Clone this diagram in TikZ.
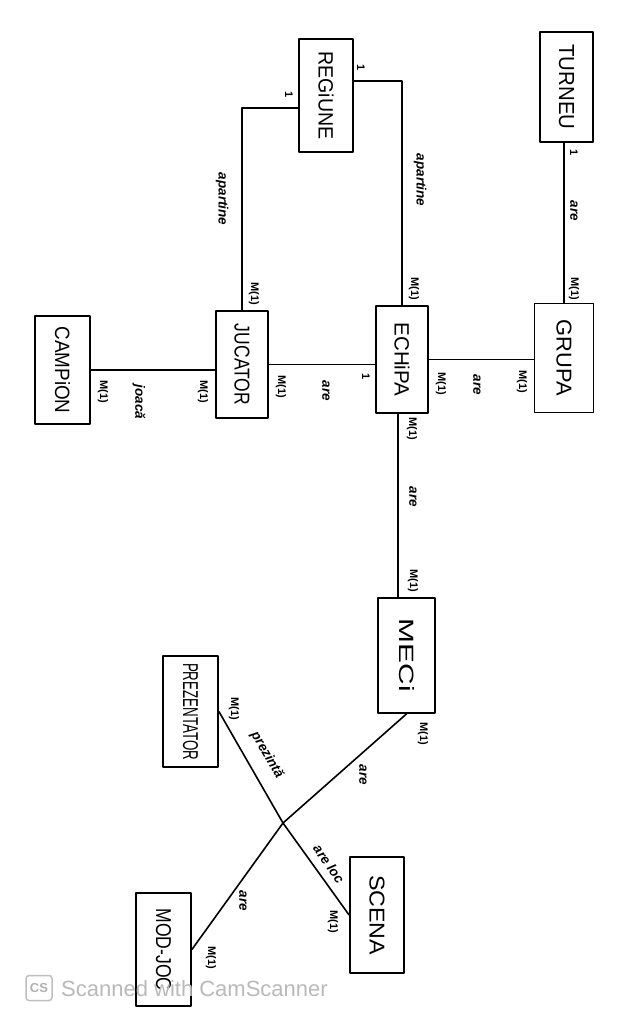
\documentclass[tikz,border=0pt]{standalone}
\usepackage{fontspec}
\setmainfont{Liberation Sans}
\usetikzlibrary{calc}
% entity name, written downwards and stretched to a given length
\newcommand{\bxlabel}[2]{\rotatebox{-90}{\resizebox{#1}{15pt}{#2}}}
\begin{document}
\begin{tikzpicture}[x=1pt,y=-1pt,
  entity/.style={draw, line width=1.8pt, line join=round, inner sep=0pt},
  link/.style={line width=1.6pt, line join=round},
  card/.style={font=\fontsize{11}{11}\selectfont\bfseries, rotate=-90, inner sep=0pt},
  verb/.style={font=\fontsize{13.5}{13.5}\selectfont\bfseries\itshape, rotate=-90, inner sep=0pt}]
\useasboundingbox[fill=white] (0,0) rectangle (626,1024);

% entities
\node[entity, minimum width=53pt, minimum height=110pt] (turneu) at (566.5,87) {\bxlabel{85pt}{TURNEU}};
\node[entity, minimum width=59pt, minimum height=109pt] (grupa) at (564,358) {\bxlabel{76pt}{GRUPA}};
\node[entity, minimum width=54pt, minimum height=113pt] (regiune) at (326,95.5) {\bxlabel{88pt}{REGiUNE}};
\node[entity, minimum width=52pt, minimum height=107pt] (echipa) at (402,359.5) {\bxlabel{74pt}{ECHiPA}};
\node[entity, minimum width=52pt, minimum height=107pt] (jucator) at (242,364.5) {\bxlabel{81pt}{JUCATOR}};
\node[entity, minimum width=55pt, minimum height=108pt] (campion) at (62.5,370) {\bxlabel{87pt}{CAMPiON}};
\node[entity, minimum width=57pt, minimum height=115pt] (meci) at (406.5,655.5) {\bxlabel{73pt}{MECi}};
\node[entity, minimum width=55pt, minimum height=111pt] (prezentator) at (190.5,711.5) {\bxlabel{97pt}{PREZENTATOR}};
\node[entity, minimum width=54pt, minimum height=116pt] (scena) at (377,915) {\bxlabel{80pt}{SCENA}};
\node[entity, minimum width=55pt, minimum height=113pt] (modjoc) at (163.5,949.5) {\bxlabel{82pt}{MOD-JOC}};

% relationships
\draw[link] (grupa.north |- turneu.south) -- (grupa.north);
\draw[link] ([yshift=14.5pt]regiune.east) -| (echipa.north);
\draw[link] ([yshift=-12.5pt]regiune.west) -| (jucator.north);
\draw[link] (jucator.east) -- (jucator.east -| echipa.west);
\draw[link] (echipa.east) -- (echipa.east -| grupa.west);
\draw[link] (campion.east) -- (campion.east -| jucator.west);
\draw[link] ([xshift=-4pt]echipa.south) -- ([xshift=-4pt]echipa.south |- meci.north);
\coordinate (X) at (283,823);
\draw[link] (meci.south) -- (X) -- (modjoc.east);
\draw[link] (prezentator.east) -- (X) -- (scena.west);

% TURNEU - GRUPA
\node[card] (c1) at (574,153) {1};
\node[verb] (v1) at (574,211) {are};
\node[card] (c2) at (574,289) {M(1)};
% REGIUNE - ECHIPA
\node[card] (c3) at (361,68) {1};
\node[verb] (v2) at (420,180) {apartine};
\node[card] (c4) at (414,289) {M(1)};
% REGIUNE - JUCATOR
\node[card] (c5) at (289,95) {1};
\node[verb] (v3) at (222,199) {apartine};
\node[card] (c6) at (254,294) {M(1)};
% JUCATOR - ECHIPA
\node[card] (c7) at (281,387) {M(1)};
\node[verb] (v4) at (326,391) {are};
\node[card] (c8) at (366,377) {1};
% ECHIPA - GRUPA
\node[card] (c9) at (441,384) {M(1)};
\node[verb] (v5) at (477,385) {are};
\node[card] (c10) at (522,382) {M(1)};
% CAMPION - JUCATOR
\node[card] (c11) at (103,392) {M(1)};
\node[verb] (v6) at (139,402) {joacă};
\node[card] (c12) at (203,392) {M(1)};
% ECHIPA - MECI
\node[card] (c13) at (412,429) {M(1)};
\node[verb] (v7) at (413,497) {are};
\node[card] (c14) at (413,581) {M(1)};
% MECI, PREZENTATOR, SCENA, MOD-JOC
\node[card] (c15) at (423,734) {M(1)};
\node[verb] (v8) at (363,775) {are};
\node[card] (c16) at (234,709) {M(1)};
\node[verb, rotate=30] (v9) at (267,755) {prezintă};
\node[verb, rotate=35] (v10) at (329,864) {are loc};
\node[card] (c17) at (333,922) {M(1)};
\node[verb] (v11) at (243,901) {are};
\node[card] (c18) at (211,958) {M(1)};

% scanner stamp
\node[draw=gray!50, line width=1.5pt, rounded corners=3pt, minimum width=26pt, minimum height=25pt,
      text=gray!60, font=\fontsize{13}{13}\selectfont\bfseries, inner sep=0pt] (cs) at (39,988) {CS};
\node[text=gray!55, font=\fontsize{22}{22}\selectfont, anchor=west, inner sep=0pt] (scan) at (61,989) {Scanned with CamScanner};
\end{tikzpicture}
\end{document}
